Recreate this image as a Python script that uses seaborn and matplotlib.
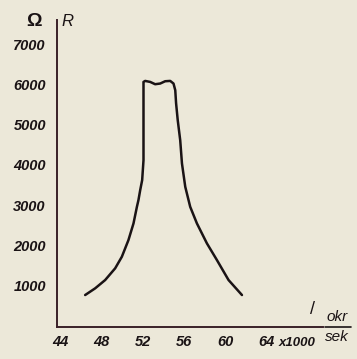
import numpy as np
import pandas as pd
import matplotlib
matplotlib.use('Agg')
import matplotlib.pyplot as plt
import seaborn as sns

# rotation speed (x1000 okr/sek) and resistance R (Ohm)
rpm = [46.43, 47.40, 48.37, 49.34, 49.99, 50.63, 51.12, 51.45, 51.60, 51.77,
       51.96, 52.09, 52.09, 52.25, 52.74, 53.22, 53.71, 54.19, 54.68, 55.00,
       55.17, 55.25, 55.41, 55.65, 55.82, 56.14, 56.62, 57.27, 58.24, 59.21,
       60.34, 61.64]
R = [769, 935, 1141, 1432, 1720, 2134, 2548, 2960, 3127, 3375,
     3623, 4119, 6062, 6087, 6062, 6005, 6022, 6079, 6087, 6022,
     5856, 5533, 5112, 4615, 4037, 3457, 2960, 2548, 2052, 1638,
     1141, 769]

x_ticks = [44, 48, 52, 56, 60, 64]
x_labels = ['44', '48', '52', '56', '60', '64']
y_ticks = [1000, 2000, 3000, 4000, 5000, 6000, 7000]
y_labels = ['1000', '2000', '3000', '4000', '5000', '6000', '7000']

bg = '#ece8d9'
ink = '#1a1315'

sns.set_theme(style='white')
plt.rcParams['font.family'] = ['Liberation Sans', 'DejaVu Sans']

W, H = 357, 359
fig = plt.figure(figsize=(W / 100, H / 100), dpi=100, facecolor=bg)
ax = fig.add_axes([57 / W, 1 - 327 / H, (323 - 57) / W, (327 - 20) / H])
ax.set_facecolor(bg)

df = pd.DataFrame({'rpm': rpm, 'R': R})
sns.lineplot(data=df, x='rpm', y='R', sort=False, estimator=None,
             color=ink, lw=1.8, ax=ax)
ax.lines[0].set_solid_joinstyle('round')

ax.set_xlim(43.7, 69.5)
ax.set_ylim(-25, 7600)
ax.set_xticks(x_ticks)
ax.set_xticklabels(x_labels)
ax.set_yticks(y_ticks)
ax.set_yticklabels(y_labels)
for lab in ax.get_xticklabels() + ax.get_yticklabels():
    lab.set_fontstyle('italic')
    lab.set_fontweight('bold')
    lab.set_fontsize(10.5)
    lab.set_color(ink)
ax.tick_params(axis='both', length=0)
ax.tick_params(axis='x', pad=6)
ax.tick_params(axis='y', pad=8)
ax.set_xlabel('')
ax.set_ylabel('')

sns.despine(ax=ax)
for s in ['left', 'bottom']:
    ax.spines[s].set_color('#3a2028')
    ax.spines[s].set_linewidth(1.4)

def fx(px):
    return px / W

def fy(py):
    return 1 - py / H

fig.text(fx(34), fy(22), 'Ω', fontsize=14, fontweight='bold', color=ink,
         ha='center', va='center')
fig.text(fx(67), fy(21), 'R', fontsize=12, fontstyle='italic', color=ink,
         ha='center', va='center')
fig.text(fx(279), fy(343), 'x1000', fontsize=9.5, fontstyle='italic',
         fontweight='bold', color=ink, ha='left', va='center')
fig.text(fx(337), fy(317), 'okr', fontsize=11, fontstyle='italic', color=ink,
         ha='center', va='center')
fig.add_artist(plt.Line2D([fx(325), fx(351)], [fy(327), fy(327)],
                          color=ink, lw=1.2))
fig.text(fx(337), fy(337), 'sek', fontsize=11, fontstyle='italic', color=ink,
         ha='center', va='center')
fig.text(fx(312), fy(309), '/', fontsize=13, color=ink,
         ha='center', va='center')

fig.savefig('out.png', dpi=100, facecolor=bg)
